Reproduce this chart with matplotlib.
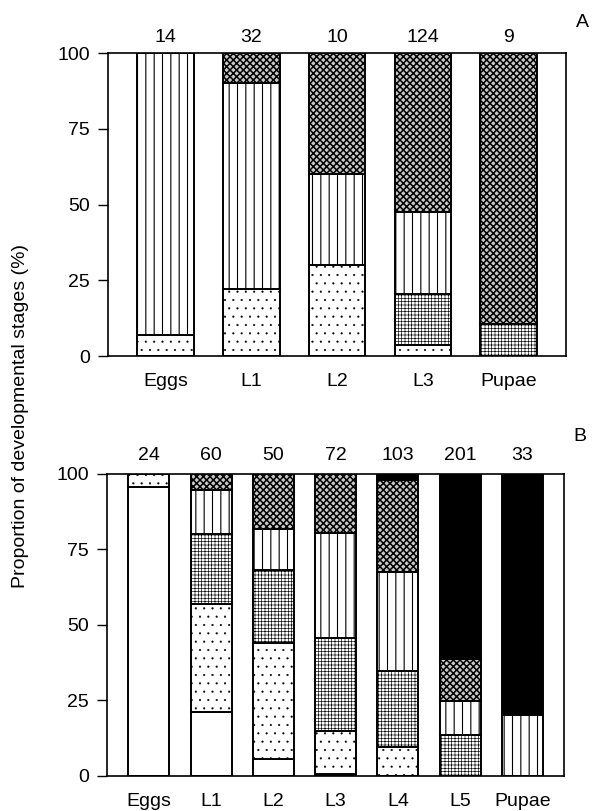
import matplotlib
matplotlib.use("Agg")
import matplotlib.pyplot as plt
import numpy as np

plt.rcParams['font.family'] = ['Liberation Sans', 'DejaVu Sans']

# segment categories, bottom to top
seg_names = ["white", "dotted", "grid", "vertical", "checker", "black"]

# Panel A
a_stages = ["Eggs", "L1", "L2", "L3", "Pupae"]
a_counts = [14, 32, 10, 124, 9]
a_white    = [0, 0, 0, 0, 0]
a_dotted   = [7, 22, 30, 3.6, 0]
a_grid     = [0, 0, 0, 17, 10.6]
a_vertical = [93, 68, 30, 27, 0]
a_checker  = [0, 10, 40, 52.4, 89.4]
a_black    = [0, 0, 0, 0, 0]

# Panel B
b_stages = ["Eggs", "L1", "L2", "L3", "L4", "L5", "Pupae"]
b_counts = [24, 60, 50, 72, 103, 201, 33]
b_white    = [95.6, 21.3, 5.5, 0.7, 0, 0, 0]
b_dotted   = [4.4, 35.6, 38.6, 14.3, 9.5, 0, 0]
b_grid     = [0, 23.2, 24.1, 30.8, 25.3, 13.5, 0]
b_vertical = [0, 14.6, 13.5, 34.6, 32.6, 11.4, 20.1]
b_checker  = [0, 5.3, 18.3, 19.6, 30.6, 13.8, 0]
b_black    = [0, 0, 0, 0, 2.0, 61.3, 79.9]

styles = {
    "white":    dict(facecolor="white", hatch=None, hlw=0.5),
    "dotted":   dict(facecolor="white", hatch="..", hlw=0.3),
    "grid":     dict(facecolor="white", hatch="+++++", hlw=0.45),
    "vertical": dict(facecolor="white", hatch="||", hlw=0.8),
    "checker":  dict(facecolor="#c8c8c8", hatch="xxxxx", hlw=1.1),
    "black":    dict(facecolor="black", hatch=None, hlw=0.5),
}

FS = 14

fig = plt.figure(figsize=(5.95, 8.11), dpi=100)

def draw(ax, stages, counts, segs, count_y, label, label_y):
    x = np.arange(len(stages))
    bottom = np.zeros(len(stages))
    for name, vals in zip(seg_names, segs):
        vals = np.array(vals, dtype=float)
        st = styles[name]
        with plt.rc_context({'hatch.linewidth': st["hlw"]}):
            ax.bar(x, vals, bottom=bottom, width=0.66, facecolor=st["facecolor"],
                   hatch=st["hatch"], edgecolor="black", linewidth=1.4)
        bottom += vals
    ax.set_xlim(-0.67, len(stages) - 1 + 0.67)
    ax.set_ylim(0, 100)
    ax.set_yticks([0, 25, 50, 75, 100])
    ax.set_xticks(x)
    ax.set_xticklabels(stages)
    ax.tick_params(axis='x', length=0, pad=12, labelsize=FS)
    ax.tick_params(axis='y', length=7, width=1, pad=6, labelsize=FS, direction='out')
    for sp in ax.spines.values():
        sp.set_linewidth(1.2)
    for xi, c in zip(x, counts):
        ax.text(xi, count_y, str(c), ha='center', va='center', fontsize=FS,
                transform=ax.get_xaxis_transform())
    ax.text(1.035, label_y, label, ha='center', va='center', fontsize=FS,
            transform=ax.transAxes)

axA = fig.add_axes([0.1815, 0.561, 0.770, 0.3736])
draw(axA, a_stages, a_counts,
     [a_white, a_dotted, a_grid, a_vertical, a_checker, a_black],
     1.05, "A", 1.10)

axB = fig.add_axes([0.180, 0.0432, 0.768, 0.3724])
draw(axB, b_stages, b_counts,
     [b_white, b_dotted, b_grid, b_vertical, b_checker, b_black],
     1.06, "B", 1.125)

fig.text(0.034, 0.487, "Proportion of developmental stages (%)", rotation=90,
         ha='center', va='center', fontsize=FS)

fig.savefig("out.png", dpi=100)
